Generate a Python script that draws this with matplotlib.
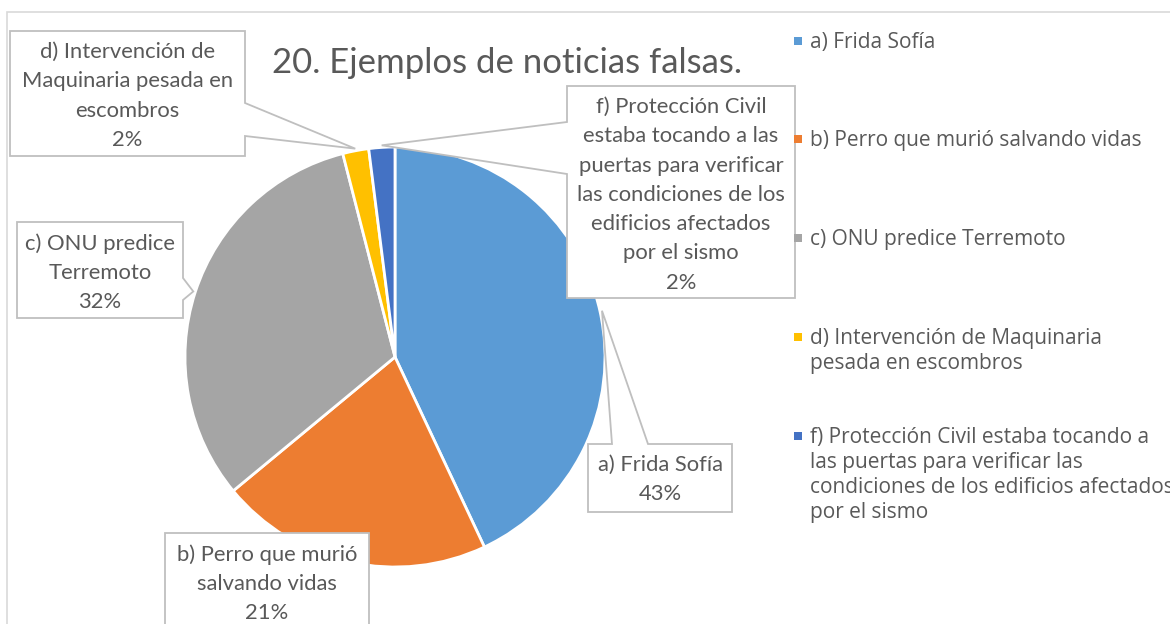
import numpy as np
import matplotlib
matplotlib.use("Agg")
import matplotlib.pyplot as plt
from matplotlib.patches import Polygon, Rectangle

# ---- data ----
categories = [
    "a) Frida Sofía",
    "b) Perro que murió salvando vidas",
    "c) ONU predice Terremoto",
    "d) Intervención de Maquinaria pesada en escombros",
    "f) Protección Civil estaba tocando a las puertas para verificar las condiciones de los edificios afectados por el sismo",
]
values = [43, 21, 32, 2, 2]
colors = ["#5B9BD5", "#ED7D31", "#A5A5A5", "#FFC000", "#4472C4"]
callout_texts = [
    "a) Frida Sofía\n43%",
    "b) Perro que murió\nsalvando vidas\n21%",
    "c) ONU predice\nTerremoto\n32%",
    "d) Intervención de\nMaquinaria pesada en\nescombros\n2%",
    "f) Protección Civil\nestaba tocando a las\npuertas para verificar\nlas condiciones de los\nedificios afectados\npor el sismo\n2%",
]
legend_texts = [
    "a) Frida Sofía",
    "b) Perro que murió salvando vidas",
    "c) ONU predice Terremoto",
    "d) Intervención de Maquinaria\npesada en escombros",
    "f) Protección Civil estaba tocando a\nlas puertas para verificar las\ncondiciones de los edificios afectados\npor el sismo",
]
title = "20. Ejemplos de noticias falsas."

W, H = 1170, 624
fig = plt.figure(figsize=(W / 100, H / 100), dpi=100)
ax = fig.add_axes([0, 0, 1, 1])

def Y(p):
    return H - p

TXT = "#595959"
EDGE = "#BFBFBF"
LABEL_FONT = "Lato"

# chart border
ax.add_patch(Rectangle((7, Y(700)), 1300, 700 - 12, fill=False,
                       edgecolor="#D9D9D9", lw=1.2, zorder=0))

# pie
cx, cy, R = 395, Y(357), 210
wedges, _ = ax.pie(values, colors=colors, startangle=90, counterclock=False,
                   center=(cx, cy), radius=R, frame=True,
                   wedgeprops=dict(edgecolor="white", linewidth=2.0))
ax.set_xlim(0, W)
ax.set_ylim(0, H)
ax.axis("off")

# title
ax.text(507, Y(63), title, ha="center", va="center", fontsize=25,
        color=TXT, family=LABEL_FONT)

# callouts
boxes = [
    dict(box=(588, 444, 732, 512), side="top", base=(612, 648)),
    dict(box=(165, 533, 369, 660), side=None, base=None),
    dict(box=(17, 222, 183, 318), side="right", base=(278, 300)),
    dict(box=(10, 31, 245, 156), side="right", base=(103, 136)),
    dict(box=(567, 86, 795, 298), side="left", base=(122, 174)),
]

for w, txt, b in zip(wedges, callout_texts, boxes):
    mid = np.deg2rad((w.theta1 + w.theta2) / 2)
    tip = (cx + 1.01 * R * np.cos(mid), cy + 1.01 * R * np.sin(mid))
    x0, y0, x1, y1 = b["box"]
    if b["side"] == "top":
        pts = [(x0, Y(y0)), (b["base"][0], Y(y0)), tip, (b["base"][1], Y(y0)),
               (x1, Y(y0)), (x1, Y(y1)), (x0, Y(y1))]
    elif b["side"] == "right":
        pts = [(x0, Y(y0)), (x1, Y(y0)), (x1, Y(b["base"][0])), tip,
               (x1, Y(b["base"][1])), (x1, Y(y1)), (x0, Y(y1))]
    elif b["side"] == "left":
        pts = [(x0, Y(y0)), (x1, Y(y0)), (x1, Y(y1)), (x0, Y(y1)),
               (x0, Y(b["base"][1])), tip, (x0, Y(b["base"][0]))]
    else:
        pts = [(x0, Y(y0)), (x1, Y(y0)), (x1, Y(y1)), (x0, Y(y1))]
    ax.add_patch(Polygon(pts, closed=True, facecolor="white", edgecolor=EDGE,
                         lw=1.3, zorder=5))
    ax.text((x0 + x1) / 2, Y(y0 + 11), txt, ha="center", va="top",
            fontsize=15.8, color=TXT, family=LABEL_FONT, linespacing=1.58,
            zorder=6)

# legend (manual)
leg_y = [41, 139, 238, 337, 436]
for yy, c, t in zip(leg_y, colors, legend_texts):
    ax.add_patch(Rectangle((794, Y(yy + 4)), 8, 8, facecolor=c,
                           edgecolor="none", zorder=6))
    ax.text(810, Y(yy - 9), t, ha="left", va="top", fontsize=15, color=TXT,
            family="Open Sans", linespacing=1.24, zorder=6)

fig.savefig("out.png", dpi=100)
